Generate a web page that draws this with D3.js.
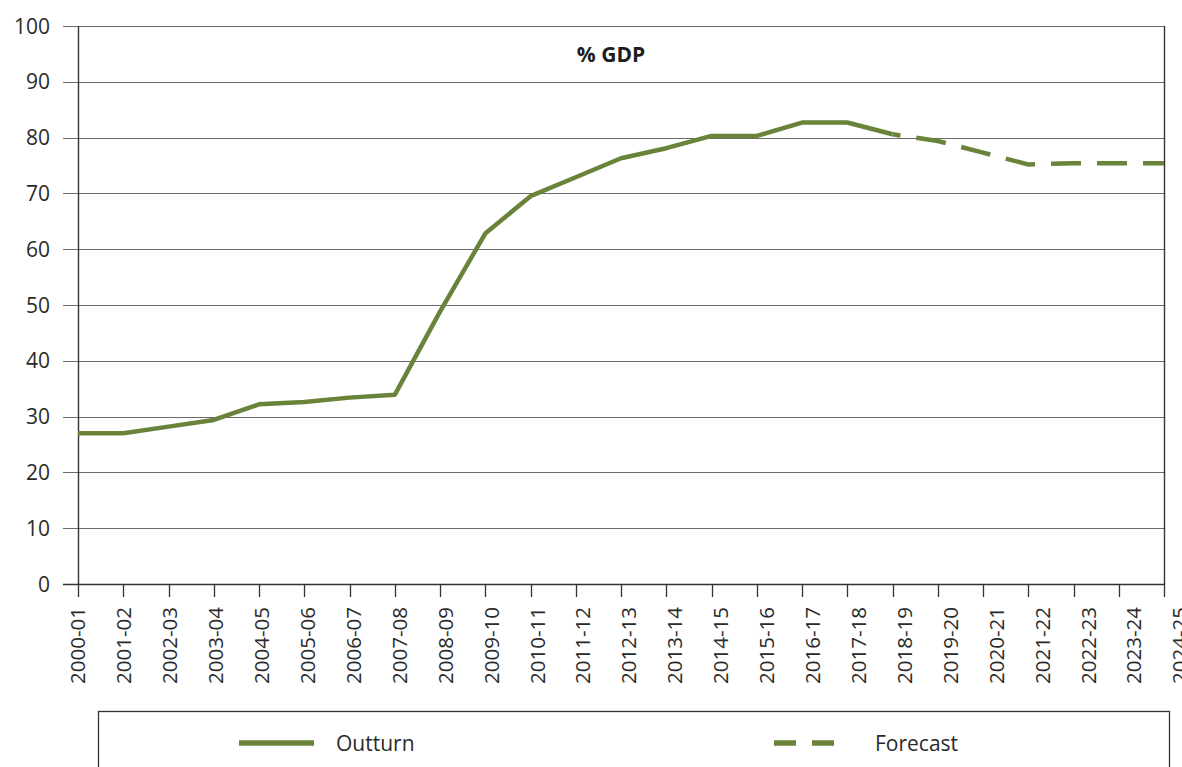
<!DOCTYPE html>
<html>
<head>
<meta charset="utf-8">
<script src="https://cdn.jsdelivr.net/npm/d3@7"></script>
<style>
  html, body { margin: 0; padding: 0; background: #fff; overflow: hidden; }
  svg { display: block; }
  text { font-family: "Open Sans", "Noto Sans", sans-serif; fill: #2a2a2a; }
</style>
</head>
<body>
<svg id="chart" width="1182" height="767"></svg>
<script>
// ---- data ----
const categories = ["2000-01","2001-02","2002-03","2003-04","2004-05","2005-06","2006-07","2007-08","2008-09","2009-10","2010-11","2011-12","2012-13","2013-14","2014-15","2015-16","2016-17","2017-18","2018-19","2019-20","2020-21","2021-22","2022-23","2023-24","2024-25"];
const outturnYears = ["2000-01","2001-02","2002-03","2003-04","2004-05","2005-06","2006-07","2007-08","2008-09","2009-10","2010-11","2011-12","2012-13","2013-14","2014-15","2015-16","2016-17","2017-18","2018-19"];
const outturnValues = [27.0,27.0,28.2,29.4,32.2,32.6,33.4,33.9,48.8,62.8,69.5,72.9,76.3,78.1,80.3,80.3,82.7,82.7,80.6];
const forecastYears = ["2018-19","2019-20","2020-21","2021-22","2022-23","2023-24","2024-25"];
const forecastValues = [80.6,79.4,77.3,75.2,75.4,75.4,75.4];
const yTicks = [0,10,20,30,40,50,60,70,80,90,100];
const title = "% GDP";
const legendLabels = ["Outturn","Forecast"];

(function () {
// ---- layout ----
const svg = d3.select("#chart");
const pLeft = 78, pRight = 1164, pTop = 26, pBottom = 584;
const green = "#69833a";
const gridColor = "#6a6a6a";
const axisColor = "#333";

const x = d3.scalePoint().domain(categories).range([pLeft, pRight]);
const xLabel = d3.scalePoint().domain(categories).range([pLeft, 1180]);
const y = d3.scaleLinear().domain([0, 100]).range([pBottom, pTop]);

// gridlines
svg.append("g").selectAll("line").data(yTicks.filter(d => d > 0)).join("line")
  .attr("x1", pLeft - 15).attr("x2", pRight)
  .attr("y1", d => Math.round(y(d)) + 0.5).attr("y2", d => Math.round(y(d)) + 0.5)
  .attr("stroke", gridColor).attr("stroke-width", 1);

// y labels
svg.append("g").selectAll("text").data(yTicks).join("text")
  .attr("x", 50).attr("y", d => y(d)).attr("dy", "0.36em")
  .attr("text-anchor", "end").attr("font-size", 21)
  .text(d => d);

// x axis line + ticks
svg.append("line").attr("x1", pLeft - 15).attr("x2", pRight)
  .attr("y1", pBottom + 0.5).attr("y2", pBottom + 0.5)
  .attr("stroke", axisColor).attr("stroke-width", 1.4);
svg.append("g").selectAll("line").data(categories).join("line")
  .attr("x1", d => Math.round(x(d)) + 0.5).attr("x2", d => Math.round(x(d)) + 0.5)
  .attr("y1", pBottom).attr("y2", pBottom + 13)
  .attr("stroke", axisColor).attr("stroke-width", 1.3);
// y axis line
svg.append("line").attr("x1", pLeft + 0.5).attr("x2", pLeft + 0.5)
  .attr("y1", pTop).attr("y2", pBottom)
  .attr("stroke", axisColor).attr("stroke-width", 1.4);
// right border
svg.append("line").attr("x1", pRight + 0.5).attr("x2", pRight + 0.5)
  .attr("y1", pTop).attr("y2", pBottom)
  .attr("stroke", axisColor).attr("stroke-width", 1.4);

// x labels
svg.append("g").selectAll("text").data(categories).join("text")
  .attr("transform", d => `translate(${xLabel(d)},607) rotate(-90)`)
  .attr("dy", "0.36em").attr("text-anchor", "end").attr("font-size", 20.5)
  .text(d => d);

// title
svg.append("text").attr("x", 611).attr("y", 62).attr("text-anchor", "middle")
  .attr("font-size", 21).attr("font-weight", "bold").style("fill", "#1e1e1e")
  .text(title);

// lines
const line = d3.line().x(d => x(d[0])).y(d => y(d[1]));
svg.append("path").datum(outturnYears.map((c, i) => [c, outturnValues[i]]))
  .attr("d", line).attr("fill", "none").attr("stroke", green)
  .attr("stroke-width", 4.5).attr("stroke-linejoin", "round");
svg.append("path").datum(forecastYears.map((c, i) => [c, forecastValues[i]]))
  .attr("d", line).attr("fill", "none").attr("stroke", green)
  .attr("stroke-width", 4.5).attr("stroke-linejoin", "miter")
  .attr("stroke-dasharray", "30,16").attr("stroke-dashoffset", 22);

// legend
svg.append("rect").attr("x", 98.5).attr("y", 711.5).attr("width", 1071).attr("height", 80)
  .attr("fill", "none").attr("stroke", axisColor).attr("stroke-width", 1.3);
const legY = 743;
svg.append("line").attr("x1", 239).attr("x2", 314).attr("y1", legY).attr("y2", legY)
  .attr("stroke", green).attr("stroke-width", 5.5);
svg.append("text").attr("x", 336).attr("y", legY).attr("dy", "0.36em")
  .attr("font-size", 21).text(legendLabels[0]);
svg.append("line").attr("x1", 774).attr("x2", 850).attr("y1", legY).attr("y2", legY)
  .attr("stroke", green).attr("stroke-width", 5.5).attr("stroke-dasharray", "22,16");
svg.append("text").attr("x", 875).attr("y", legY).attr("dy", "0.36em")
  .attr("font-size", 21).text(legendLabels[1]);
})();
</script>
</body>
</html>
